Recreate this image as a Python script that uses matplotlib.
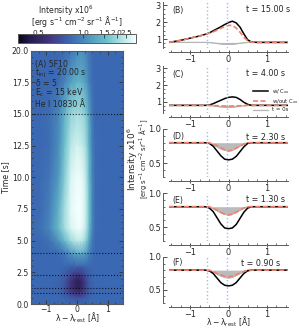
"""Flare He I 10830 spectra: time-wavelength map and line profiles"""

import numpy as np
import matplotlib
matplotlib.use("Agg")
import matplotlib.pyplot as plt
from matplotlib.colors import LinearSegmentedColormap, FuncNorm
from matplotlib.ticker import MultipleLocator, FixedLocator, NullLocator

W, H = 299, 330

# heatmap data
map_lam = [-1.5, -1.2, -0.9, -0.6, -0.4, -0.2, 0, 0.1, 0.2, 0.3, 0.4, 0.5, 0.6, 0.9, 1.5]
map_time = [0, 0.5, 0.9, 1.3, 1.8, 2.3, 3, 4, 5, 6, 7.5, 10, 12.5, 15, 17.5, 20]
map_vals = [
    [.80, .80, .80, .80, .80, .80, .80, .80, .80, .80, .80, .80, .80, .80, .80],
    [.80, .80, .80, .80, .78, .74, .70, .71, .73, .76, .78, .80, .80, .80, .80],
    [.80, .80, .80, .79, .72, .62, .56, .57, .62, .68, .75, .79, .80, .80, .80],
    [.80, .80, .80, .78, .70, .57, .49, .50, .56, .65, .74, .78, .80, .80, .80],
    [.80, .80, .80, .79, .72, .58, .48, .49, .55, .65, .74, .78, .80, .80, .80],
    [.80, .80, .80, .80, .75, .65, .58, .59, .63, .70, .76, .79, .80, .80, .80],
    [.80, .80, .80, .80, .80, .79, .78, .78, .79, .80, .80, .80, .80, .80, .80],
    [.80, .80, .80, .81, .90, 1.10, 1.27, 1.30, 1.27, 1.15, .95, .85, .80, .80, .80],
    [.80, .80, .85, 1.10, 1.50, 2.00, 2.40, 2.40, 2.20, 1.80, 1.20, .90, .80, .80, .80],
    [.80, .85, 1.00, 1.50, 2.10, 2.80, 3.20, 3.20, 2.90, 2.30, 1.50, 1.00, .82, .80, .80],
    [.80, .82, .95, 1.40, 2.10, 3.00, 3.30, 3.30, 3.00, 2.40, 1.60, 1.00, .82, .80, .80],
    [.80, .82, .88, 1.15, 1.80, 2.80, 3.20, 3.15, 2.90, 2.30, 1.50, 1.00, .82, .80, .80],
    [.80, .80, .84, 1.05, 1.60, 2.35, 2.70, 2.60, 2.40, 2.00, 1.35, .95, .82, .80, .80],
    [.80, .80, .84, 1.00, 1.40, 1.90, 2.10, 2.05, 1.95, 1.70, 1.20, .90, .80, .80, .80],
    [.80, .80, .80, .84, .98, 1.20, 1.40, 1.40, 1.32, 1.15, .95, .84, .80, .80, .80],
    [.80, .80, .80, .80, .82, .88, 1.00, 1.05, 1.05, .98, .88, .82, .80, .80, .80],
]
line_times = [15, 4, 2.3, 1.3, 0.9]

# profiles
lam = [-1.55, -1.25, -1, -.75, -.6, -.5, -.4, -.3, -.2, -.1, 0, .1, .2, .3, .4, .5, .6, .75, 1, 1.55]
b_with = [.80, .92, 1.05, 1.18, 1.28, 1.36, 1.48, 1.60, 1.72, 1.85, 1.97, 2.05, 1.95, 1.70, 1.30, .95, .82, .80, .80, .80]
b_without = [.80, .92, 1.05, 1.18, 1.28, 1.35, 1.42, 1.52, 1.63, 1.73, 1.80, 1.80, 1.65, 1.40, 1.10, .90, .81, .80, .80, .80]
b_zero = [.80, .80, .80, .80, .80, .79, .77, .74, .71, .69, .68, .69, .72, .75, .78, .80, .80, .80, .80, .80]
c_with = [.80, .80, .80, .80, .80, .82, .90, 1.00, 1.10, 1.20, 1.27, 1.30, 1.27, 1.15, .98, .86, .80, .80, .80, .80]
c_without = [.80, .80, .80, .80, .80, .80, .79, .78, .77, .76, .76, .76, .77, .78, .79, .80, .80, .80, .80, .80]
d_with = [.80, .80, .80, .80, .80, .79, .75, .68, .61, .56, .55, .56, .60, .67, .74, .79, .80, .80, .80, .80]
d_without = [.80, .80, .80, .80, .80, .80, .78, .76, .73, .70, .68, .69, .72, .75, .78, .80, .80, .80, .80, .80]
e_with = [.80, .80, .80, .80, .80, .78, .73, .64, .55, .49, .48, .49, .54, .63, .72, .78, .80, .80, .80, .80]
e_without = [.80, .80, .80, .80, .80, .80, .78, .75, .72, .69, .68, .69, .72, .75, .78, .80, .80, .80, .80, .80]
f_with = [.80, .80, .80, .80, .80, .79, .75, .68, .61, .57, .56, .57, .61, .68, .75, .79, .80, .80, .80, .80]
f_without = [.80, .80, .80, .80, .80, .80, .78, .75, .73, .71, .70, .71, .73, .76, .78, .80, .80, .80, .80, .80]

panel_labels = ["(B)", "(C)", "(D)", "(E)", "(F)"]
panel_times = ["t = 15.00 s", "t = 4.00 s", "t = 2.30 s", "t = 1.30 s", "t = 0.90 s"]
panel_with = [b_with, c_with, d_with, e_with, f_with]
panel_without = [b_without, c_without, d_without, e_without, f_without]

TXT = "#262626"
SPINE = "#5a5a5a"
RED = "#f3806a"
GREY = "#b4b4b4"
plt.rcParams.update({"font.size": 5.6, "text.color": TXT, "axes.labelcolor": TXT,
                     "xtick.labelcolor": TXT, "ytick.labelcolor": TXT,
                     "mathtext.default": "regular",
                     "xtick.color": "#333333", "ytick.color": "#333333"})

cmap = LinearSegmentedColormap.from_list("flare", [
    (0.0, "#05051c"), (0.10, "#231a4e"), (0.27, "#43357f"), (0.44, "#3b68b2"),
    (0.58, "#4c90bd"), (0.75, "#6cc0cc"), (0.88, "#b4e4e4"), (1.0, "#f2fffd")])
norm = FuncNorm((lambda v: -np.power(v, -0.4), lambda v: np.power(-v, -2.5)), vmin=0.386, vmax=3.29)


def box(fig, left, top, right, bottom):
    return fig.add_axes([left / W, 1 - bottom / H, (right - left) / W, (bottom - top) / H])


def main():
    fig = plt.figure(figsize=(W / 100, H / 100), dpi=100)

    # map
    ax = box(fig, 31, 50.5, 123, 304)
    mesh = ax.pcolormesh(map_lam, map_time, np.array(map_vals), cmap=cmap, norm=norm,
                         shading="gouraud", rasterized=True)
    for t in line_times:
        ax.axhline(t, color="black", ls=":", lw=0.8, alpha=0.8)
    ax.set_xlim(-1.5, 1.5)
    ax.set_ylim(0, 20)
    ax.xaxis.set_major_locator(MultipleLocator(1))
    ax.xaxis.set_minor_locator(MultipleLocator(0.25))
    ax.yaxis.set_major_locator(MultipleLocator(2.5))
    ax.yaxis.set_minor_locator(MultipleLocator(0.5))
    ax.yaxis.set_major_formatter("{x:.1f}")
    ax.tick_params(which="major", direction="in", top=True, right=True, length=3, width=0.6, pad=1.5)
    ax.tick_params(axis="x", which="major", pad=0.5)
    ax.tick_params(which="minor", direction="in", top=True, right=True, length=1.5, width=0.5)
    for s in ax.spines.values():
        s.set_color(SPINE)
        s.set_linewidth(0.8)
    ax.set_ylabel("Time [s]", labelpad=1)
    ax.set_xlabel(r"$\lambda-\lambda_{\rm rest}$ [Å]", labelpad=-2.5)
    txt_y = [64, 73.5, 83, 92.5, 105]
    txt = ["(A) 5F10", r"$t_{\rm inj}$ = 20.00 s", r"$\delta$ = 5", r"E$_{\rm c}$ = 15 keV", "He I 10830 Å"]
    for y, s in zip(txt_y, txt):
        fig.text(35 / W, 1 - y / H, s, va="center", ha="left", fontsize=5.6)

    # colorbar
    cax = box(fig, 18, 34, 136, 42.5)
    cb = fig.colorbar(mesh, cax=cax, orientation="horizontal")
    cb.ax.xaxis.set_ticks_position("top")
    cb.ax.xaxis.set_major_locator(FixedLocator([0.5, 1.0, 1.5, 2.0, 2.5]))
    cb.ax.xaxis.set_minor_locator(NullLocator())
    cb.ax.xaxis.set_major_formatter("{x:.1f}")
    cb.ax.tick_params(direction="in", length=3, width=0.6, pad=-1.2, labelsize=5.3)
    cb.outline.set_edgecolor(SPINE)
    cb.outline.set_linewidth(0.7)
    fig.text(66 / W, 1 - 11 / H, "Intensity x10$^6$", ha="center", va="center")
    fig.text(77 / W, 1 - 21.5 / H, r"[erg s$^{-1}$ cm$^{-2}$ sr$^{-1}$ Å$^{-1}$]", ha="center", va="center")

    # profile panels
    tops = [2, 66, 129, 193, 257]
    bottoms = [48, 113, 177, 241, 303]
    ylims = [(0.47, 3.18), (0.35, 3.12), (0.3, 1.0), (0.3, 1.0), (0.3, 1.0)]
    label_y = [10, 74, 137, 200, 263]
    for i in range(5):
        a = box(fig, 169, tops[i], 288, bottoms[i])
        a.fill_between(lam, b_zero, 0.8, color=GREY, lw=0, alpha=0.9)
        a.plot(lam, b_zero, color=GREY, lw=0.9, label="t = 0s")
        a.plot(lam, panel_with[i], color="black", lw=1.1, label="w/ C$_{xx}$")
        a.plot(lam, panel_without[i], color=RED, lw=1.2, ls=(0, (3, 1.5)), label="w/out C$_{xx}$")
        for x in [-0.55, -0.04]:
            a.axvline(x, color="#9dbdf2", ls=":", lw=1.0)
        a.set_xlim(-1.55, 1.55)
        a.set_ylim(*ylims[i])
        a.patch.set_alpha(0)
        for s in ["top", "right"]:
            a.spines[s].set_visible(False)
        a.spines["left"].set_position(("outward", 4.3))
        a.spines["bottom"].set_position(("outward", 2.9))
        a.spines["left"].set_color(SPINE)
        a.spines["bottom"].set_color(SPINE)
        a.spines["left"].set_linewidth(0.7)
        a.spines["bottom"].set_linewidth(0.7)
        a.xaxis.set_major_locator(MultipleLocator(1))
        a.xaxis.set_minor_locator(MultipleLocator(0.25))
        if i < 2:
            a.yaxis.set_major_locator(MultipleLocator(1))
            a.yaxis.set_major_formatter("{x:.0f}")
        else:
            a.yaxis.set_major_locator(MultipleLocator(0.5))
            a.yaxis.set_major_formatter("{x:.1f}")
        a.yaxis.set_minor_locator(MultipleLocator(0.25 if i < 2 else 0.1))
        a.tick_params(axis="x", which="major", direction="inout", length=3.5, width=0.6, pad=0.5, labelsize=5.9)
        a.tick_params(axis="x", which="minor", direction="in", length=1.5, width=0.5)
        a.tick_params(axis="y", which="major", direction="in", length=3, width=0.6, pad=1.5, labelsize=5.9)
        a.tick_params(axis="y", which="minor", direction="in", length=1.5, width=0.5)
        fig.text(172 / W, 1 - label_y[i] / H, panel_labels[i], va="center", ha="left")
        x0 = 241 if i == 4 else 246.5
        fig.text(x0 / W, 1 - label_y[i] / H, panel_times[i], va="center", ha="left", fontsize=5.8)
        if i == 1:
            h, l = a.get_legend_handles_labels()
            a.legend([h[1], h[2], h[0]], [l[1], l[2], l[0]], loc="center left", frameon=False,
                     bbox_to_anchor=((253 - 169) / 119, 0.28), fontsize=3.9, handlelength=2.8,
                     handletextpad=0.7, labelspacing=0.25, borderpad=0, borderaxespad=0)
        if i == 4:
            a.set_xlabel(r"$\lambda-\lambda_{\rm rest}$ [Å]", labelpad=-3)

    fig.text(132.5 / W, 1 - 159 / H, "Intensity x10$^6$", rotation=90, ha="center", va="center", fontsize=6.4)
    fig.text(143.5 / W, 1 - 159 / H, r"[erg s$^{-1}$ cm$^{-2}$ sr$^{-1}$ Å$^{-1}$]",
             rotation=90, ha="center", va="center", fontsize=4.9)

    fig.savefig("out.png", dpi=100)


if __name__ == "__main__":
    main()
